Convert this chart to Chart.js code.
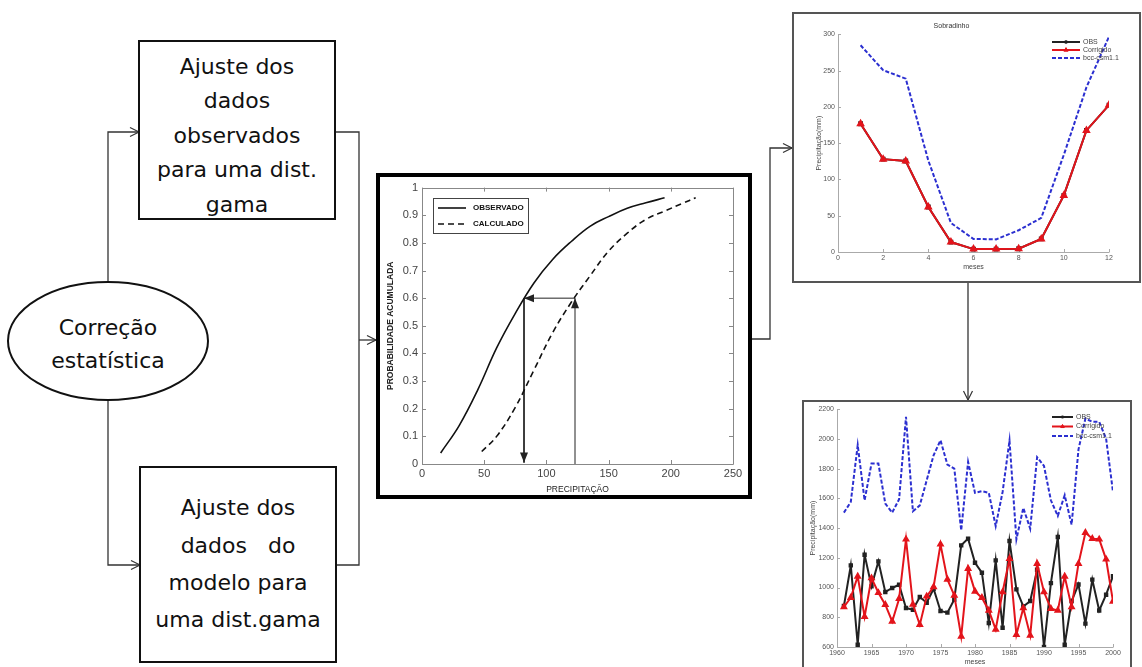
<!DOCTYPE html>
<html><head><meta charset="utf-8">
<script src="https://cdn.jsdelivr.net/npm/chart.js@4"></script>
<style>
html,body{margin:0;padding:0;background:#fff;width:1142px;height:667px;overflow:hidden;}
.t{position:absolute;font-family:'DejaVu Sans',sans-serif;font-size:22px;color:#111;text-align:center;white-space:pre;}
.frame{position:absolute;box-sizing:border-box;background:#fff;overflow:hidden;}
canvas{display:block}
</style></head><body>
<svg width="1142" height="667" style="position:absolute;left:0;top:0">
<defs><marker id="ah" markerWidth="12" markerHeight="12" refX="10" refY="6" orient="auto" markerUnits="userSpaceOnUse"><path d="M1,1.5 L10,6 L1,10.5" fill="none" stroke="#333" stroke-width="1.2"/></marker></defs>
<g fill="none" stroke="#333" stroke-width="1.3">
<path d="M108 282 V132 H139" marker-end="url(#ah)"/>
<path d="M108 400 V565 H140" marker-end="url(#ah)"/>
<path d="M335 132 H359 V565 H336"/>
<path d="M359 340 H376" marker-end="url(#ah)"/>
<path d="M752 339 H770 V148 H792" marker-end="url(#ah)"/>
<path d="M968 283 V400" marker-end="url(#ah)"/>
</g>
<rect x="139" y="41" width="196" height="178" fill="#fff" stroke="#111" stroke-width="2"/>
<rect x="140" y="467" width="196" height="195" fill="#fff" stroke="#111" stroke-width="2"/>
<ellipse cx="108" cy="341" rx="100" ry="59" fill="#fff" stroke="#111" stroke-width="2"/>
</svg>
<div class="t" style="left:139px;width:196px;top:49.75px;line-height:34.5px">Ajuste dos
dados
observados
para uma dist.
gama</div>
<div class="t" style="left:140px;width:196px;top:489.4px;line-height:37.3px">Ajuste dos
dados   do
modelo para
uma dist.gama</div>
<div class="t" style="left:8px;width:200px;top:327.5px;line-height:33px;margin-top:-16.5px">Correção
estatística</div>

<div class="frame" style="left:376px;top:173px;width:376px;height:326px;border:4px solid #000">
<canvas id="c1" width="368" height="318"></canvas></div>
<div class="frame" style="left:792px;top:12px;width:349px;height:271px;border:2px solid #555">
<canvas id="c2" width="345" height="267"></canvas></div>
<div class="frame" style="left:802px;top:400px;width:330px;height:275px;border:2px solid #555">
<canvas id="c3" width="326" height="271"></canvas></div>

<script>
// ---- Data: CDF chart ----
const obsPrecip = [15, 30, 45, 60, 75, 90, 105, 120, 135, 150, 165, 180, 195];
const obsProb   = [0.04, 0.14, 0.27, 0.42, 0.545, 0.655, 0.74, 0.805, 0.86, 0.895, 0.925, 0.945, 0.963];
const calcPrecip = [48, 60, 75, 90, 105, 120, 135, 150, 165, 180, 195, 210, 220];
const calcProb   = [0.045, 0.1, 0.205, 0.34, 0.475, 0.585, 0.68, 0.77, 0.835, 0.885, 0.915, 0.944, 0.963];
const arrowPrecip = [123, 123, 82, 82];
const arrowProb   = [0, 0.6, 0.6, 0.005];

// ---- Data: monthly chart (Sobradinho) ----
const months = [1,2,3,4,5,6,7,8,9,10,11,12];
const obsMonthly  = [176.8, 128, 125.5, 62, 13.7, 4, 4, 4.5, 18, 78, 167.6, 202.5];
const corrMonthly = [176.8, 128, 125.5, 62, 13.7, 4, 4, 4.5, 18, 78, 167.6, 202.5];
const bccMonthly  = [285, 250.6, 239, 126, 40, 18, 17.4, 30, 47, 134, 227, 297];

// ---- Data: annual chart ----
const years = [1961,1962,1963,1964,1965,1966,1967,1968,1969,1970,1971,1972,1973,1974,1975,1976,1977,1978,1979,1980,
               1981,1982,1983,1984,1985,1986,1987,1988,1989,1990,1991,1992,1993,1994,1995,1996,1997,1998,1999,2000];
const obsAnnual  = [876,1149,615,1221,1008,1176,970,997,1019,862,851,936,898,992,842,831,920,1284,1329,1167,
                    1100,761,1183,730,1313,988,873,909,1120,600,1030,1340,615,909,1021,757,1053,846,952,1077];
const corrAnnual = [869,932,1075,804,1064,965,885,772,925,1325,887,750,941,1004,1291,1055,947,671,1127,974,
                    932,846,718,970,1194,683,862,678,1161,970,858,846,1075,869,1161,1369,1329,1325,1190,907];
const bccAnnual  = [1504,1576,1958,1587,1834,1834,1565,1504,1594,2148,1513,1553,1722,1890,1991,1827,1800,1385,1845,1637,
                    1648,1637,1414,1643,1989,1325,1536,1396,1877,1818,1587,1482,1621,1423,1930,2137,2115,2115,2002,1643];

// ---- Tick labels ----
const cdfXTicks = [0,50,100,150,200,250];
const monthTicks = [0,2,4,6,8,10,12];
const yearTicks = [1960,1965,1970,1975,1980,1985,1990,1995,2000];

const pts = (xs, ys) => xs.map((x, i) => ({x, y: ys[i]}));

Chart.defaults.font.family = "'Liberation Sans', Arial, sans-serif";
Chart.defaults.animation = false;

const inTicks = {
  id: 'inTicks',
  beforeDatasetsDraw(chart, args, o) {
    if (!o || !o.len) return;
    const {ctx, chartArea: a, scales: {x, y}} = chart;
    ctx.save();
    ctx.strokeStyle = o.color; ctx.lineWidth = 1;
    ctx.beginPath();
    x.ticks.forEach(t => {
      const px = Math.round(x.getPixelForValue(t.value)) + 0.5;
      ctx.moveTo(px, a.bottom); ctx.lineTo(px, a.bottom - o.len);
      if (o.box) { ctx.moveTo(px, a.top); ctx.lineTo(px, a.top + o.len); }
    });
    y.ticks.forEach(t => {
      const py = Math.round(y.getPixelForValue(t.value)) + 0.5;
      ctx.moveTo(a.left, py); ctx.lineTo(a.left + o.len, py);
      if (o.box) { ctx.moveTo(a.right, py); ctx.lineTo(a.right - o.len, py); }
    });
    ctx.stroke();
    ctx.strokeStyle = o.axisColor || o.color;
    ctx.beginPath();
    const L = Math.round(a.left) + 0.5, B = Math.round(a.bottom) + 0.5, T = Math.round(a.top) + 0.5, R = Math.round(a.right) + 0.5;
    if (o.box) { ctx.rect(L, T, R - L, B - T); }
    else { ctx.moveTo(L, T); ctx.lineTo(L, B); ctx.lineTo(R, B); }
    ctx.stroke();
    ctx.restore();
  }
};

const arrowHeads = {
  id: 'arrowHeads',
  afterDatasetsDraw(chart) {
    const ctx = chart.ctx;
    chart.data.datasets.forEach((ds, di) => {
      if (!ds.arrowHeads) return;
      const pts = chart.getDatasetMeta(di).data;
      ctx.save(); ctx.fillStyle = ds.borderColor;
      for (let i = 1; i < pts.length; i++) {
        const p0 = pts[i-1], p1 = pts[i];
        const ang = Math.atan2(p1.y - p0.y, p1.x - p0.x);
        const len = 10, hw = 4;
        ctx.beginPath();
        ctx.moveTo(p1.x, p1.y);
        ctx.lineTo(p1.x - len*Math.cos(ang) + hw*Math.sin(ang), p1.y - len*Math.sin(ang) - hw*Math.cos(ang));
        ctx.lineTo(p1.x - len*Math.cos(ang) - hw*Math.sin(ang), p1.y - len*Math.sin(ang) + hw*Math.cos(ang));
        ctx.closePath(); ctx.fill();
      }
      ctx.restore();
    });
  }
};

const boxLegend = {
  id: 'boxLegend',
  afterDraw(chart, args, o) {
    if (!o || !o.show) return;
    const ctx = chart.ctx;
    ctx.save();
    if (o.box) {
      ctx.strokeStyle = o.boxColor; ctx.lineWidth = 1;
      ctx.strokeRect(o.box[0] + 0.5, o.box[1] + 0.5, o.box[2], o.box[3]);
    }
    ctx.font = o.font; ctx.textBaseline = 'middle'; ctx.fillStyle = o.color;
    let i = 0;
    chart.data.datasets.forEach(ds => {
      if (!ds.label) return;
      const y = o.y + i * o.dy;
      ctx.save();
      ctx.strokeStyle = ds.borderColor; ctx.lineWidth = ds.borderWidth;
      ctx.setLineDash(ds.borderDash || []);
      ctx.beginPath(); ctx.moveTo(o.x, y); ctx.lineTo(o.x + o.len, y); ctx.stroke();
      ctx.restore();
      if (ds.pointRadius > 0) {
        ctx.save(); ctx.fillStyle = ds.pointBackgroundColor; ctx.strokeStyle = ds.borderColor; ctx.lineWidth = 1;
        Chart.helpers.drawPoint(ctx, {pointStyle: ds.pointStyle, radius: ds.pointRadius * 0.8, borderWidth: 1, rotation: 0},
          o.x + o.len/2, y);
        ctx.restore();
      }
      ctx.fillStyle = o.color;
      ctx.fillText(ds.label, o.x + o.len + o.gap, y);
      i++;
    });
    ctx.restore();
  }
};

Chart.register(inTicks, arrowHeads, boxLegend);

function fixed(w) { return s => { s.width = w; }; }
function fixedH(h) { return s => { s.height = h; }; }

// ---------- Chart 1: CDF ----------
new Chart(document.getElementById('c1'), {
  type: 'line',
  data: {
    datasets: [
      {label: 'OBSERVADO', data: pts(obsPrecip, obsProb), borderColor: '#111', borderWidth: 1.6,
       pointRadius: 0, tension: 0.4},
      {label: 'CALCULADO', data: pts(calcPrecip, calcProb), borderColor: '#111', borderWidth: 1.6, borderDash: [6, 4],
       pointRadius: 0, tension: 0.4},
      {data: pts(arrowPrecip, arrowProb), borderColor: '#222', borderWidth: 1, pointRadius: 0, tension: 0, arrowHeads: true}
    ]
  },
  options: {
    responsive: false,
    layout: {padding: {left: 0, right: 15, top: 8, bottom: 0}},
    plugins: {
      legend: {display: false}, tooltip: {enabled: false},
      inTicks: {len: 4, color: '#888', axisColor: '#888', box: true},
      boxLegend: {show: true, x: 58, y: 31, dy: 16, len: 28, gap: 7, font: "bold 8px 'Liberation Sans Narrow', 'Liberation Sans', sans-serif",
                  color: '#111', box: [53, 21, 95, 35], boxColor: '#444'}
    },
    scales: {
      x: {type: 'linear', min: 0, max: 250, afterFit: fixedH(31),
          afterBuildTicks: s => { s.ticks = cdfXTicks.map(v => ({value: v})); },
          grid: {display: false, drawTicks: false}, border: {display: false},
          ticks: {font: {size: 11}, color: '#444', padding: 3, maxRotation: 0},
          title: {display: true, text: 'PRECIPITAÇÃO', color: '#222', padding: {top: 0, bottom: 0},
                  font: {size: 8.5, family: "'Liberation Sans Narrow', 'Liberation Sans', sans-serif"}}},
      y: {type: 'linear', min: 0, max: 1, afterFit: fixed(42),
          grid: {display: false, drawTicks: false}, border: {display: false},
          ticks: {stepSize: 0.1, font: {size: 11}, color: '#444', padding: 4, callback: v => String(+v.toFixed(1))},
          title: {display: true, text: 'PROBABILIDADE ACUMULADA', color: '#222', padding: {top: 6, bottom: 0},
                  font: {size: 8.5, weight: 'bold', family: "'Liberation Sans Narrow', 'Liberation Sans', sans-serif"}}}
    }
  }
});

// ---------- Chart 2: monthly ----------
const smallFont = {size: 7};
new Chart(document.getElementById('c2'), {
  type: 'line',
  data: {
    datasets: [
      {label: 'OBS', data: pts(months, obsMonthly), borderColor: '#222', backgroundColor: '#222', borderWidth: 2,
       pointStyle: 'rect', pointRadius: 2, pointBackgroundColor: '#222', tension: 0, order: 3},
      {label: 'Corrigido', data: pts(months, corrMonthly), borderColor: '#e3141b', backgroundColor: '#e3141b', borderWidth: 2,
       pointStyle: 'triangle', pointRadius: 3, pointBackgroundColor: '#e3141b', tension: 0, order: 2},
      {label: 'bcc-csm1.1', data: pts(months, bccMonthly), borderColor: '#2b2fd0', borderWidth: 2, borderDash: [4, 2],
       pointRadius: 0, tension: 0, order: 1}
    ]
  },
  options: {
    responsive: false,
    layout: {padding: {left: 0, right: 30, top: 0, bottom: 0}},
    plugins: {
      legend: {display: false}, tooltip: {enabled: false},
      title: {display: true, text: 'Sobradinho', font: {size: 7, weight: 'normal'}, color: '#333', padding: {top: 8, bottom: 4}},
      inTicks: {len: 3, color: '#aaa', axisColor: '#aaa', box: false},
      boxLegend: {show: true, x: 258, y: 28, dy: 8, len: 28, gap: 3, font: "7px 'Liberation Sans', sans-serif", color: '#444'}
    },
    scales: {
      x: {type: 'linear', min: 0, max: 12, afterFit: fixedH(29),
          afterBuildTicks: s => { s.ticks = monthTicks.map(v => ({value: v})); },
          grid: {display: false, drawTicks: false}, border: {display: false},
          ticks: {font: smallFont, color: '#555', padding: 2, maxRotation: 0},
          title: {display: true, text: 'meses', font: smallFont, color: '#444', padding: {top: 0, bottom: 10}}},
      y: {type: 'linear', min: 0, max: 300, afterFit: fixed(44),
          grid: {display: false, drawTicks: false}, border: {display: false},
          ticks: {stepSize: 50, font: smallFont, color: '#555', padding: 3},
          title: {display: true, text: 'Precipitação(mm)', font: smallFont, color: '#444', padding: {top: 21, bottom: 0}}}
    }
  }
});

// ---------- Chart 3: annual ----------
new Chart(document.getElementById('c3'), {
  type: 'line',
  data: {
    datasets: [
      {label: 'OBS', data: pts(years, obsAnnual), borderColor: '#222', backgroundColor: '#222', borderWidth: 2,
       pointStyle: 'rect', pointRadius: 1.7, pointBackgroundColor: '#222', tension: 0, order: 3},
      {label: 'Corrigido', data: pts(years, corrAnnual), borderColor: '#e3141b', backgroundColor: '#e3141b', borderWidth: 2,
       pointStyle: 'triangle', pointRadius: 2.6, pointBackgroundColor: '#e3141b', tension: 0, order: 2},
      {label: 'bcc-csm1.1', data: pts(years, bccAnnual), borderColor: '#2b2fd0', borderWidth: 2, borderDash: [4, 2],
       pointRadius: 0, tension: 0, order: 1}
    ]
  },
  options: {
    responsive: false,
    layout: {padding: {left: 0, right: 17, top: 7, bottom: 0}},
    plugins: {
      legend: {display: false}, tooltip: {enabled: false},
      inTicks: {len: 3, color: '#aaa', axisColor: '#aaa', box: false},
      boxLegend: {show: true, x: 248, y: 15, dy: 9.5, len: 21, gap: 3, font: "7px 'Liberation Sans', sans-serif", color: '#444'}
    },
    scales: {
      x: {type: 'linear', min: 1960, max: 2000, afterFit: fixedH(26),
          afterBuildTicks: s => { s.ticks = yearTicks.map(v => ({value: v})); },
          grid: {display: false, drawTicks: false}, border: {display: false},
          ticks: {font: smallFont, color: '#555', padding: 2, maxRotation: 0, autoSkip: false, callback: v => String(v)},
          title: {display: true, text: 'meses', font: smallFont, color: '#444', padding: {top: 0, bottom: 7}}},
      y: {type: 'linear', min: 600, max: 2200, afterFit: fixed(33),
          grid: {display: false, drawTicks: false}, border: {display: false},
          ticks: {stepSize: 200, font: smallFont, color: '#555', padding: 3, callback: v => String(v)},
          title: {display: true, text: 'Precipitação(mm)', font: smallFont, color: '#444', padding: {top: 5, bottom: 0}}}
    }
  }
});
</script>
</body></html>
